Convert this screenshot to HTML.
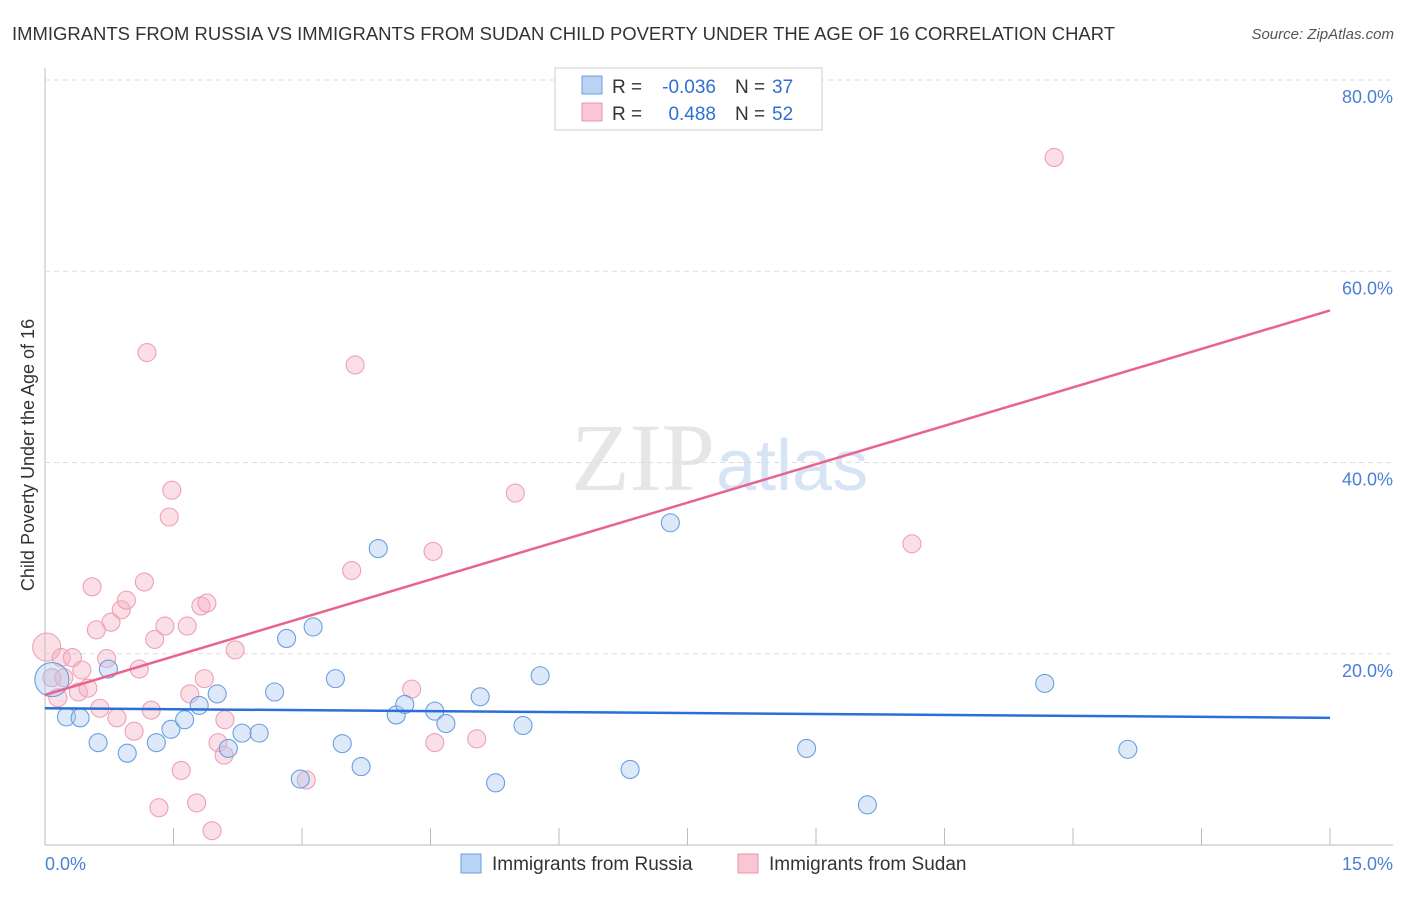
<!DOCTYPE html>
<html><head><meta charset="utf-8"><style>
body{margin:0;background:#fff;font-family:"Liberation Sans",sans-serif;}
</style></head><body>
<svg id="chart" width="1406" height="892" xmlns="http://www.w3.org/2000/svg" style="font-family:'Liberation Sans',sans-serif">
<text x="12" y="40" font-size="18" fill="#333" textLength="1103" lengthAdjust="spacingAndGlyphs">IMMIGRANTS FROM RUSSIA VS IMMIGRANTS FROM SUDAN CHILD POVERTY UNDER THE AGE OF 16 CORRELATION CHART</text>
<text x="1394" y="39" font-size="15" fill="#555" text-anchor="end" font-style="italic">Source: ZipAtlas.com</text>
<text x="715" y="490" font-size="96" fill="#e6e6e6" text-anchor="end" font-family="Liberation Serif">ZIP</text>
<text x="716" y="490" font-size="72" fill="#d6e4f5">atlas</text>
<g id="grid"></g><g id="pts"></g><g id="lines"></g>
<text transform="translate(34,455) rotate(-90)" font-size="18" fill="#333" text-anchor="middle">Child Poverty Under the Age of 16</text>
<g>
<rect x="555" y="68" width="267" height="62" fill="#fff" stroke="#ccc"/>
<rect x="582" y="76" width="20" height="18" fill="#b9d3f5" stroke="#6a9fe0"/>
<rect x="582" y="103" width="20" height="18" fill="#f9c6d4" stroke="#ec93ad"/>
<text x="612" y="93" font-size="19" fill="#333">R =</text>
<text x="716" y="93" font-size="19" fill="#2f6fd3" text-anchor="end">-0.036</text>
<text x="735" y="93" font-size="19" fill="#333">N =</text>
<text x="772" y="93" font-size="19" fill="#2f6fd3">37</text>
<text x="612" y="120" font-size="19" fill="#333">R =</text>
<text x="716" y="120" font-size="19" fill="#2f6fd3" text-anchor="end">0.488</text>
<text x="735" y="120" font-size="19" fill="#333">N =</text>
<text x="772" y="120" font-size="19" fill="#2f6fd3">52</text>
</g>
<g>
<rect x="461" y="854" width="20" height="19" fill="#b9d3f5" stroke="#6a9fe0"/>
<text x="492" y="870" font-size="19" fill="#333">Immigrants from Russia</text>
<rect x="738" y="854" width="20" height="19" fill="#f9c6d4" stroke="#ec93ad"/>
<text x="769" y="870" font-size="19" fill="#333">Immigrants from Sudan</text>
</g>
</svg>
<script>
const xTicks=[0,1.5,3,4.5,6,7.5,9,10.5,12,13.5,15];
const yTicks=[20,40,60,80];
const yTickLabels=["20.0%","40.0%","60.0%","80.0%"];
const russiaX=[0.08,0.25,0.41,0.62,0.74,0.96,1.30,1.47,1.63,1.80,2.01,2.14,2.30,2.50,2.68,2.82,2.98,3.13,3.39,3.47,3.69,3.89,4.10,4.20,4.55,4.68,5.08,5.26,5.58,5.78,6.83,7.30,8.89,9.60,11.67,12.64];
const russiaY=[17.3,13.4,13.3,10.7,18.4,9.6,10.7,12.1,13.1,14.6,15.8,10.1,11.7,11.7,16.0,21.6,6.9,22.8,17.4,10.6,8.2,31.0,13.6,14.7,14.0,12.7,15.5,6.5,12.5,17.7,7.9,33.7,10.1,4.2,16.9,10.0];
const sudanX=[0.02,0.08,0.15,0.19,0.22,0.32,0.39,0.43,0.50,0.55,0.60,0.64,0.72,0.77,0.84,0.89,0.95,1.04,1.10,1.16,1.19,1.24,1.28,1.33,1.40,1.45,1.48,1.59,1.66,1.69,1.77,1.82,1.86,1.89,1.95,2.02,2.09,2.10,2.22,3.05,3.58,3.62,4.28,4.53,4.55,5.04,5.49,10.12,11.78];
const sudanY=[20.7,17.5,15.4,19.6,17.5,19.6,16.0,18.3,16.4,27.0,22.5,14.3,19.5,23.3,13.3,24.6,25.6,11.9,18.4,27.5,51.5,14.1,21.5,3.9,22.9,34.3,37.1,7.8,22.9,15.8,4.4,25.0,17.4,25.3,1.5,10.7,9.4,13.1,20.4,6.8,28.7,50.2,16.3,30.7,10.7,11.1,36.8,31.5,71.9];
const russiaTrend=[14.3,13.3];
const sudanTrend=[15.7,55.9];
const X=v=>45+v/15*1285, Y=v=>845-v*9.5625;
const NS="http://www.w3.org/2000/svg";
function mk(t,a,p){const e=document.createElementNS(NS,t);for(const k in a)e.setAttribute(k,a[k]);p.appendChild(e);return e;}
const grid=document.getElementById('grid');
mk('line',{x1:45,y1:68,x2:45,y2:845,stroke:'#bbb'},grid);
mk('line',{x1:45,y1:845,x2:1393,y2:845,stroke:'#bbb'},grid);
yTicks.forEach((t,i)=>{
 const l=mk('line',{x1:45,y1:Y(t),x2:1393,y2:Y(t),stroke:'#ddd','stroke-dasharray':'5,4'},grid);
 
 
 const tx=mk('text',{x:1393,y:Y(t)+23,'font-size':18,fill:'#4a7fd6','text-anchor':'end'},grid);
 tx.textContent=yTickLabels[i];
 
 
});
xTicks.forEach((t,i)=>{
 if(i===0)return;
 const l=mk('line',{x1:X(t),y1:828,x2:X(t),y2:845,stroke:'#bbb'},grid);
 
 
});
const xl=mk('text',{x:45,y:870,'font-size':18,fill:'#4a7fd6'},grid);xl.textContent='0.0%';


const xr=mk('text',{x:1393,y:870,'font-size':18,fill:'#4a7fd6','text-anchor':'end'},grid);xr.textContent='15.0%';


const pts=document.getElementById('pts');
sudanX.forEach((x,i)=>{
 const c=mk('circle',{cx:X(x),cy:Y(sudanY[i]),r:i===0?14:9,fill:'rgba(246,176,196,0.4)',stroke:'#eea0b6','stroke-width':1.1},pts);
 
 
});
russiaX.forEach((x,i)=>{
 const c=mk('circle',{cx:X(x),cy:Y(russiaY[i]),r:i===0?17:9,fill:'rgba(170,200,240,0.4)',stroke:'#6a9fe0','stroke-width':1.1},pts);
 
 
});
const lines=document.getElementById('lines');
const lb=mk('line',{x1:X(0),y1:Y(russiaTrend[0]),x2:X(15),y2:Y(russiaTrend[1]),stroke:'#2a6fd6','stroke-width':2.5},lines);


const lp=mk('line',{x1:X(0),y1:Y(sudanTrend[0]),x2:X(15),y2:Y(sudanTrend[1]),stroke:'#e8648e','stroke-width':2.5},lines);


</script>
</body></html>
